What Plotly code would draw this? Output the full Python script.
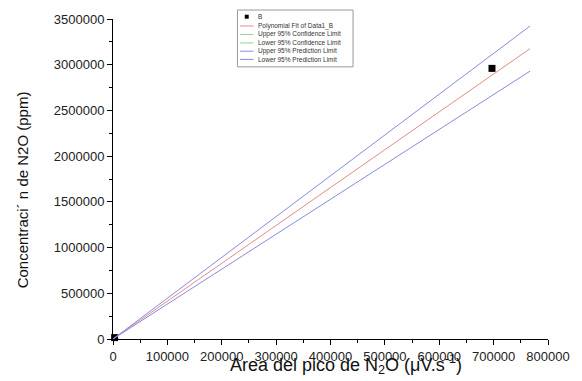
import plotly.graph_objects as go

# Data points (series B)
data_x = [3000, 697000]
data_y = [15000, 2960000]

# Fitted line and limits (evaluated at the ends of the fit range)
fit_x = [0, 767000]
fit_y = [0, 3176000]
upper_pred_y = [0, 3423000]
lower_pred_y = [0, 2930000]

x_ticks = [0, 100000, 200000, 300000, 400000, 500000, 600000, 700000, 800000]
y_ticks = [0, 500000, 1000000, 1500000, 2000000, 2500000, 3000000, 3500000]

legend_names = ["B", "Polynomial Fit of Data1_B", "Upper 95% Confidence Limit",
                "Lower 95% Confidence Limit", "Upper 95% Prediction Limit",
                "Lower 95% Prediction Limit"]

RED = "#e58a8a"
GREEN = "#8fd88f"
BLUE = "#8a8ae0"

fig = go.Figure()
fig.add_trace(go.Scatter(x=data_x, y=data_y, mode="markers", name=legend_names[0],
                         marker=dict(symbol="square", size=7, color="black"),
                         cliponaxis=False))
fig.add_trace(go.Scatter(x=fit_x, y=fit_y, mode="lines", name=legend_names[1],
                         line=dict(color=RED, width=1)))
fig.add_trace(go.Scatter(x=fit_x, y=upper_pred_y, mode="lines", name=legend_names[4],
                         line=dict(color=BLUE, width=1)))
fig.add_trace(go.Scatter(x=fit_x, y=lower_pred_y, mode="lines", name=legend_names[5],
                         line=dict(color=BLUE, width=1)))

# plot area in pixels
L, R, T, B = 113, 557, 18, 339


def px(xp):
    return (xp - L) / (R - L)


def py(yp):
    return (B - yp) / (B - T)


font_family = "Arial, Liberation Sans, sans-serif"
axis_font = dict(family=font_family, size=13, color="#222")

shapes = []
annotations = []
# manual compact legend
shapes.append(dict(type="rect", xref="paper", yref="paper",
                   x0=px(240), x1=px(358), y0=py(66), y1=py(9),
                   line=dict(color="#999", width=1), fillcolor="white", layer="above"))
legend_colors = [None, RED, GREEN, GREEN, BLUE, BLUE]
legend_y = [15.7, 25, 33.5, 42, 50.3, 58.5]
for name, col, yy in zip(legend_names, legend_colors, legend_y):
    if col is None:
        shapes.append(dict(type="rect", xref="paper", yref="paper",
                           x0=px(247.5), x1=px(251.5), y0=py(yy + 2), y1=py(yy - 2),
                           line=dict(width=0), fillcolor="black", layer="above"))
    else:
        shapes.append(dict(type="line", xref="paper", yref="paper",
                           x0=px(242.5), x1=px(256.5), y0=py(yy), y1=py(yy),
                           line=dict(color=col, width=1), layer="above"))
    annotations.append(dict(text=name, xref="paper", yref="paper", x=px(259), y=py(yy),
                            xanchor="left", yanchor="middle", showarrow=False,
                            font=dict(family=font_family, size=6.5, color="#333")))

annotations.append(dict(text="Area del pico de N<sub>2</sub>O (\u03bcV.s<sup>-1</sup>)",
                        xref="paper", yref="paper", x=px(351), y=py(365),
                        xanchor="center", yanchor="middle", showarrow=False,
                        font=dict(family=font_family, size=18, color="#111")))
annotations.append(dict(text="Concentraci\u00b4 n de N2O (ppm)",
                        xref="paper", yref="paper", x=px(21), y=py(189),
                        xanchor="center", yanchor="middle", showarrow=False, textangle=-90,
                        font=dict(family=font_family, size=15, color="#111")))

fig.update_layout(
    width=582, height=381,
    margin=dict(l=L, r=582 - R, t=T, b=381 - B),
    plot_bgcolor="white", paper_bgcolor="white",
    showlegend=False,
    xaxis=dict(range=[0, 800000], tickvals=x_ticks, ticktext=[str(v) for v in x_ticks],
               showgrid=False, zeroline=False, showline=True, linecolor="black", linewidth=1,
               ticks="outside", ticklen=5, tickcolor="black", tickfont=axis_font,
               minor=dict(dtick=50000, ticks="outside", ticklen=3, tickcolor="black")),
    yaxis=dict(range=[0, 3500000], tickvals=y_ticks, ticktext=[str(v) for v in y_ticks],
               showgrid=False, zeroline=False, showline=True, linecolor="black", linewidth=1,
               ticks="outside", ticklen=5, tickcolor="black", tickfont=axis_font,
               minor=dict(dtick=250000, ticks="outside", ticklen=3, tickcolor="black")),
    shapes=shapes,
    annotations=annotations,
)

fig.write_html("out.html")
